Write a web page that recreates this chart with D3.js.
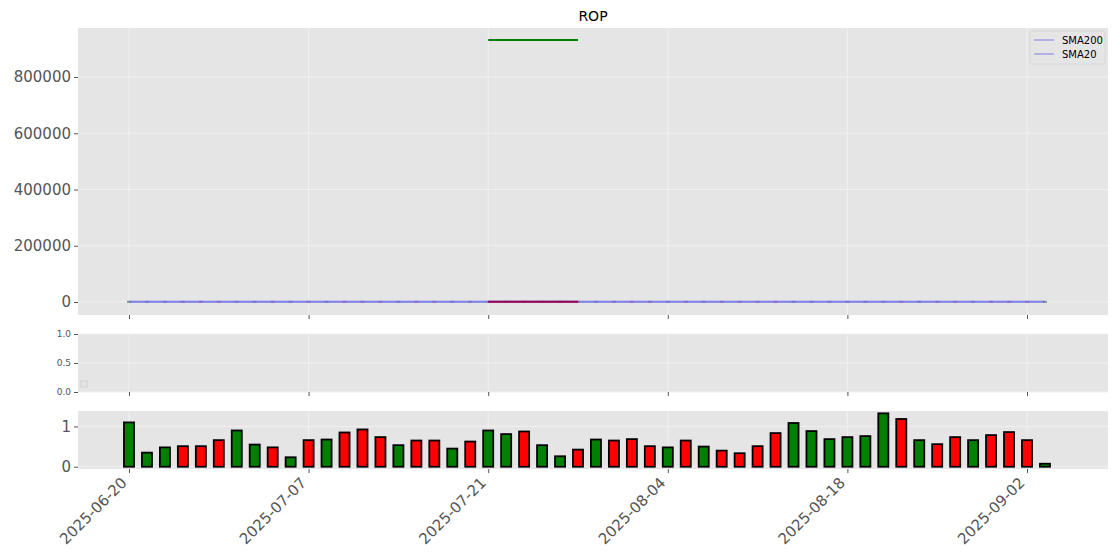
<!DOCTYPE html>
<html>
<head>
<meta charset="utf-8">
<script src="https://cdn.jsdelivr.net/npm/d3@7"></script>
<style>
  html, body { margin: 0; padding: 0; background: #fff; }
  svg { display: block; font-family: "DejaVu Sans", sans-serif; }
</style>
</head>
<body>
<svg id="chart" width="1120" height="560"></svg>
<script>
// ---- data ----
const dates = ["2025-06-20","2025-06-23","2025-06-24","2025-06-25","2025-06-26","2025-06-27","2025-06-30",
  "2025-07-01","2025-07-02","2025-07-03","2025-07-07","2025-07-08","2025-07-09","2025-07-10","2025-07-11",
  "2025-07-14","2025-07-15","2025-07-16","2025-07-17","2025-07-18","2025-07-21","2025-07-22","2025-07-23",
  "2025-07-24","2025-07-25","2025-07-28","2025-07-29","2025-07-30","2025-07-31","2025-08-01","2025-08-04",
  "2025-08-05","2025-08-06","2025-08-07","2025-08-08","2025-08-11","2025-08-12","2025-08-13","2025-08-14",
  "2025-08-15","2025-08-18","2025-08-19","2025-08-20","2025-08-21","2025-08-22","2025-08-25","2025-08-26",
  "2025-08-27","2025-08-28","2025-08-29","2025-09-02","2025-09-03"];
const tickLabels = ["2025-06-20","2025-07-07","2025-07-21","2025-08-04","2025-08-18","2025-09-02"];
const volume = [1.10,0.35,0.48,0.51,0.51,0.66,0.90,0.55,0.48,0.235,0.66,0.675,0.85,0.925,0.735,0.535,0.65,0.65,
  0.45,0.625,0.90,0.81,0.875,0.535,0.26,0.425,0.675,0.65,0.685,0.51,0.48,0.65,0.50,0.40,0.335,0.51,0.835,1.085,
  0.885,0.685,0.735,0.76,1.325,1.185,0.66,0.56,0.735,0.66,0.785,0.86,0.66,0.075];
const upDay = [1,1,1,0,0,0,1,1,0,1,0,1,0,0,0,1,0,0,1,0,1,1,0,1,1,0,1,0,0,0,1,0,1,0,0,0,0,1,1,1,1,1,1,0,1,0,0,1,0,0,0,1];
const close = [563,561,566,568,565,566,567,569,566,569,566,567,565,562,560,563,560,558,560,556,561,563,562,
  555,553,550,552,549,544,542,544,540,541,537,534,532,531,533,536,538,540,542,545,541,542,539,536,537,534,531,527,528];
const sma20 = [560,560,561,561,562,562,563,563,563,564,564,564,564,564,564,564,564,564,564,564,564,564,563,
  563,562,561,560,559,558,557,556,555,554,553,551,550,549,548,547,546,545,544,543,542,541,540,540,539,539,538,538,538];
const sma200 = [550,550,550,550,550,550,550,550,550,550,551,551,551,551,551,551,551,551,551,551,551,551,551,
  551,551,551,551,551,551,551,551,551,551,551,551,551,551,551,551,551,551,551,551,551,550,550,550,550,550,550,550,550];
const segIdx = [20,21,22,23,24,25];
const segHigh = [931500,931500,931500,931500,931500,931500];
const segLow = [561,563,562,555,553,550];
const priceTicks = [0,200000,400000,600000,800000];
const midTicks = [0.0,0.5,1.0];
const volTicks = [0,1];

// ---- layout ----
const svg = d3.select("#chart");
const L = 78, R = 1108;
const x = d3.scaleLinear().domain([-2.84, 54.51]).range([L, R]);
const yTop = d3.scaleLinear().domain([-46222, 974222]).range([315, 28]);
const yMid = d3.scaleLinear().domain([0, 1]).range([392, 334]);
const yVol = d3.scaleLinear().domain([-0.056, 1.383]).range([469, 411]);
const tickIdx = tickLabels.map(t => dates.indexOf(t));
const BG = "#e5e5e5", GRID = "#f0f0f0", TXT = "#555";

function panel(y, ticks, fmt, fontSize) {
  const [y0, y1] = y.range();
  const g = svg.append("g");
  g.append("rect").attr("x", L).attr("y", y1).attr("width", R - L).attr("height", y0 - y1).attr("fill", BG);
  g.selectAll(".hg").data(ticks).join("line")
    .attr("x1", L).attr("x2", R).attr("y1", d => y(d)).attr("y2", d => y(d))
    .attr("stroke", GRID).attr("stroke-width", 1);
  g.selectAll(".vg").data(tickIdx).join("line")
    .attr("x1", d => x(d)).attr("x2", d => x(d)).attr("y1", y1).attr("y2", y0)
    .attr("stroke", GRID).attr("stroke-width", 1);
  const ax = svg.append("g").attr("transform", `translate(${L},0)`)
    .call(d3.axisLeft(y).tickValues(ticks).tickFormat(fmt).tickSize(4).tickPadding(3));
  ax.select(".domain").remove();
  ax.selectAll("line").attr("stroke", TXT);
  ax.selectAll("text").attr("fill", TXT).style("font-size", fontSize + "px").style("font-family", "DejaVu Sans");
  const bx = svg.append("g").attr("transform", `translate(0,${y0})`)
    .call(d3.axisBottom(x).tickValues(tickIdx).tickFormat("").tickSize(4));
  bx.select(".domain").remove();
  bx.selectAll("line").attr("stroke", TXT);
  return bx;
}

// top panel
panel(yTop, priceTicks, d3.format("d"), 15);
const gTop = svg.append("g");
gTop.selectAll(".cd").data(close).join("rect")
  .attr("x", (d, i) => x(i) - 2).attr("y", d => yTop(d) - 1)
  .attr("width", 4).attr("height", 2)
  .attr("fill", (d, i) => upDay[i] ? "#006000" : "#c00000").attr("fill-opacity", 0.5);
const lineGen = arr => d3.line().x((d, i) => x(i)).y(d => yTop(d))(arr);
gTop.append("path").attr("d", lineGen(sma200)).attr("fill", "none")
  .attr("stroke", "#6f6fe6").attr("stroke-opacity", 0.6).attr("stroke-width", 2);
gTop.append("path").attr("d", lineGen(sma20)).attr("fill", "none")
  .attr("stroke", "#6f6fe6").attr("stroke-opacity", 0.6).attr("stroke-width", 2);
const segLine = arr => d3.line().x((d, i) => x(segIdx[i])).y(d => yTop(d))(arr);
gTop.append("path").attr("d", segLine(segLow)).attr("fill", "none")
  .attr("stroke", "#990050").attr("stroke-width", 2);
gTop.append("path").attr("d", segLine(segHigh)).attr("fill", "none")
  .attr("stroke", "#008000").attr("stroke-width", 2);

// title
svg.append("text").attr("x", (L + R) / 2).attr("y", 21).attr("text-anchor", "middle")
  .style("font-size", "14px").attr("fill", "#000").text("ROP");

// legend
const lg = svg.append("g");
lg.append("rect").attr("x", 1030).attr("y", 31).attr("width", 75).attr("height", 33).attr("rx", 2)
  .attr("fill", "#e5e5e5").attr("stroke", "#d8d8d8");
["SMA200", "SMA20"].forEach((name, i) => {
  const yy = 40 + i * 14;
  lg.append("line").attr("x1", 1034).attr("x2", 1054).attr("y1", yy).attr("y2", yy)
    .attr("stroke", "#6f6fe6").attr("stroke-opacity", 0.6).attr("stroke-width", 1.5);
  lg.append("text").attr("x", 1062).attr("y", yy + 3.5).style("font-size", "10px").attr("fill", "#000").text(name);
});

// middle panel
panel(yMid, midTicks, d3.format(".1f"), 9);
svg.append("rect").attr("x", 81).attr("y", 381).attr("width", 6).attr("height", 6)
  .attr("fill", "none").attr("stroke", "#d0d0d0").attr("stroke-width", 1);

// bottom volume panel
panel(yVol, volTicks, d3.format("d"), 15);
svg.append("g").selectAll("rect").data(volume).join("rect")
  .attr("x", (d, i) => x(i - 0.28)).attr("width", x(0.56) - x(0))
  .attr("y", d => yVol(d)).attr("height", d => yVol(0) - yVol(d))
  .attr("fill", (d, i) => upDay[i] ? "#008000" : "#ff0000")
  .attr("stroke", "#000").attr("stroke-width", 1.8);

// x tick labels (rotated)
svg.append("g").selectAll("text").data(tickIdx).join("text")
  .attr("transform", d => `translate(${x(d) - 5},${480}) rotate(-45)`)
  .attr("text-anchor", "end").attr("dy", "0.35em")
  .style("font-size", "15px").attr("fill", TXT)
  .text((d, i) => tickLabels[i]);
</script>
</body>
</html>
